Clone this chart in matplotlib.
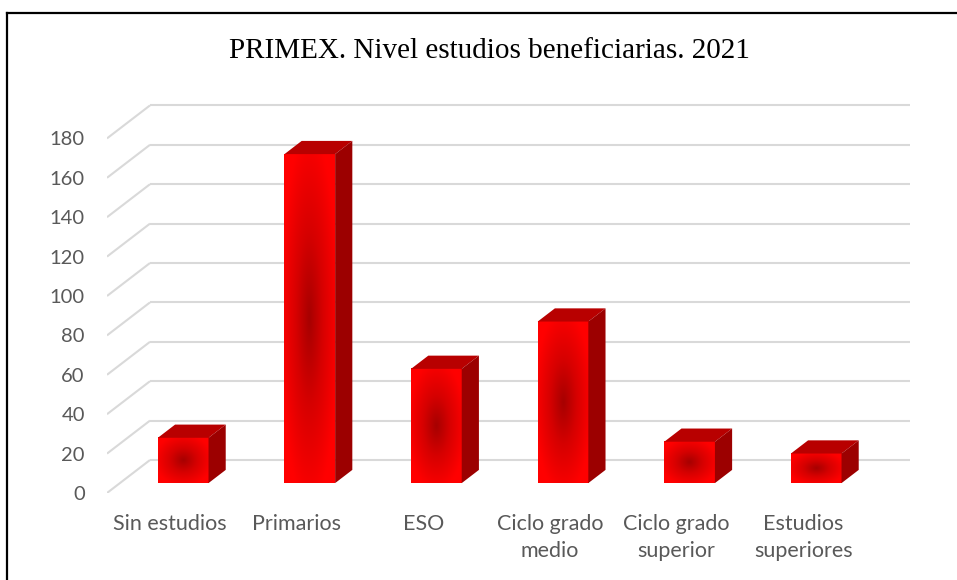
import numpy as np
import matplotlib
matplotlib.use('Agg')
import matplotlib.pyplot as plt
from matplotlib.patches import Polygon
from matplotlib.colors import LinearSegmentedColormap
from matplotlib.lines import Line2D

categories = ['Sin estudios', 'Primarios', 'ESO', 'Ciclo grado\nmedio',
              'Ciclo grado\nsuperior', 'Estudios\nsuperiores']
values = [23, 167, 58, 82, 21, 15]
yticks = [0, 20, 40, 60, 80, 100, 120, 140, 160, 180]
title = 'PRIMEX. Nivel estudios beneficiarias. 2021'

W, H = 957, 580
fig = plt.figure(figsize=(W / 100, H / 100), dpi=100)

# pixel layout of the oblique "3D" box
px_left, px_right, px_bottom, px_top = 107, 912, 493, 100
px_cat = 126.6          # pixels per category
px_unit = 1.97          # pixels per value unit
ax = fig.add_axes([px_left / W, (H - px_bottom) / H,
                   (px_right - px_left) / W, (px_bottom - px_top) / H])

DX = 43 / px_cat        # depth shift in x (data units)
DY = 33 / px_unit       # depth shift in y (data units)
n = len(categories)

# back wall gridlines and the diagonals on the side wall
grid_c = '#d9d9d9'
for v in yticks:
    ax.plot([-0.5, -0.5 + DX], [v, v + DY], color=grid_c, lw=1.5, zorder=1,
            solid_capstyle='butt')
    ax.plot([-0.5 + DX, n - 0.5 + DX], [v + DY, v + DY], color=grid_c, lw=1.5,
            zorder=1, solid_capstyle='butt')

# radial shading for the bar fronts
cmap = LinearSegmentedColormap.from_list(
    'redglow', [(0, '#a80000'), (0.45, '#d60000'), (1, '#ff0000')])
gy, gx = np.mgrid[-1:1:120j, -1:1:60j]
shade = np.clip(np.sqrt(gx ** 2 + gy ** 2) / 1.15, 0, 1)

d0, dd = 0.3, 0.4
bw = 0.40
for i, v in enumerate(values):
    xl = i - bw / 2 + d0 * DX
    xr = i + bw / 2 + d0 * DX
    yb = d0 * DY
    yt = v + d0 * DY
    ox, oy = dd * DX, dd * DY
    ax.imshow(shade, cmap=cmap, extent=[xl, xr, yb, yt], aspect='auto',
              interpolation='bilinear', zorder=3, origin='lower')
    top = Polygon([(xl, yt), (xr, yt), (xr + ox, yt + oy), (xl + ox, yt + oy)],
                  closed=True, facecolor='#b80000', edgecolor='none', zorder=3)
    side = Polygon([(xr, yb), (xr + ox, yb + oy), (xr + ox, yt + oy), (xr, yt)],
                   closed=True, facecolor='#9c0000', edgecolor='none', zorder=3)
    ax.add_patch(top)
    ax.add_patch(side)

ax.set_xlim(-0.5, -0.5 + (px_right - px_left) / px_cat)
ax.set_ylim(0, (px_bottom - px_top) / px_unit)

for s in ax.spines.values():
    s.set_visible(False)
ax.set_yticks(yticks)
ax.set_yticklabels([str(t) for t in yticks])
ax.set_xticks(range(n))
ax.set_xticklabels(categories, linespacing=1.45)
ax.tick_params(axis='y', length=0, pad=16, labelsize=14.5, labelcolor='#595959')
ax.tick_params(axis='x', length=0, pad=15, labelsize=15.5, labelcolor='#595959')
for lab in ax.get_xticklabels() + ax.get_yticklabels():
    lab.set_fontfamily('Lato')

fig.text(489 / W, 1 - 51 / H, title, ha='center', va='center',
         fontsize=21, fontfamily='Liberation Serif', color='black')

# chart frame (only left and top edges are visible in the crop)
fig.add_artist(Line2D([7.5 / W, 7.5 / W], [0, 1 - 12.5 / H], color='black',
                      lw=1.6, transform=fig.transFigure))
fig.add_artist(Line2D([7.5 / W, 1], [1 - 12.5 / H, 1 - 12.5 / H], color='black',
                      lw=1.6, transform=fig.transFigure))

fig.savefig('out.png', dpi=100)
